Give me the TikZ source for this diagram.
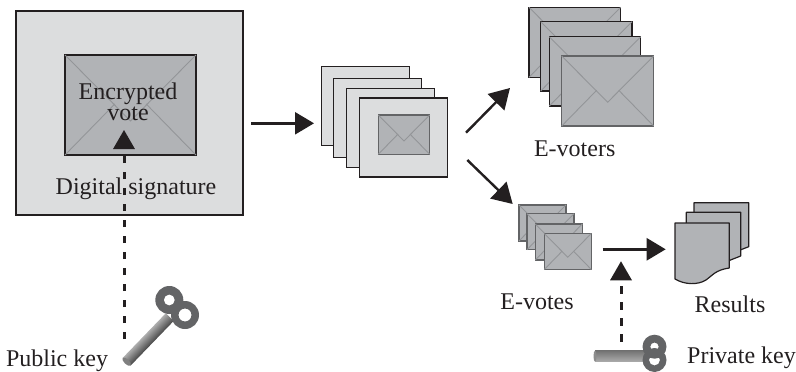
\documentclass[tikz,border=0pt]{standalone}
\usepackage{fontspec}
\setmainfont{Liberation Serif}
\usetikzlibrary{arrows.meta,shapes.geometric}
\definecolor{ink}{HTML}{231F20}
\definecolor{pagegray}{HTML}{DCDDDE}
\definecolor{envgray}{HTML}{B1B3B6}
\definecolor{flapgray}{HTML}{939598}
\definecolor{keygray}{HTML}{636466}
\tikzset{
  framebox/.style={draw=ink,fill=pagegray,line width=1.1pt,inner sep=0,outer sep=0,anchor=north west},
  envbox/.style={draw=ink,fill=envgray,line width=1.1pt,inner sep=0,outer sep=0,anchor=north west},
  softenv/.style={envbox,draw=keygray,line width=1.3pt},
  flap/.style={draw=flapgray,line width=.9pt},
  label/.style={text=ink,font=\fontsize{24}{24}\selectfont,anchor=base,inner sep=0},
  conn/.style={draw=ink,line width=2.6pt,-{Triangle[length=19pt,width=22pt,fill=ink]}},
  slant/.style={draw=ink,line width=2.4pt,-{Triangle[length=20pt,width=23pt,fill=ink]}},
  dashconn/.style={draw=ink,line width=2.8pt,dash pattern=on 7.5pt off 8.5pt},
  tip/.style={regular polygon,regular polygon sides=3,fill=ink,inner sep=0,outer sep=0,minimum size=25.4pt},
  docpage/.style={draw=ink,fill=envgray,line width=1.2pt,line join=round},
  ring/.style={fill=keygray,even odd rule},
}
% name, x, y, w, h, style
\newcommand{\envelopeAt}[6]{%
  \node[#6,minimum width=#4pt,minimum height=#5pt] (#1) at (#2,#3) {};
  \draw[flap] (#1.north west) -- ({#2+.5*#4},{#3+.66*#5}) -- (#1.north east);
  \draw[flap] (#1.south west) -- ({#2+.38*#4},{#3+.49*#5});
  \draw[flap] (#1.south east) -- ({#2+.62*#4},{#3+.49*#5});
}
\newcommand{\frameAt}[5]{%
  \node[framebox,minimum width=#4pt,minimum height=#5pt] (#1) at (#2,#3) {};
}
\begin{document}
\begin{tikzpicture}[x=1pt,y=-1pt]
\useasboundingbox (0,0) rectangle (796,372);

% signed vote
\frameAt{sig}{16}{11}{227}{204}
\envelopeAt{vote}{65}{55}{131}{100}{envbox}
\node[label] (enc) at (128,99) {Encrypted};
\node[label] (votetext) at (128,120) {vote};
\node[label] (digi) at (136,194) {Digital signature};
\node[tip] (tipa) at (124,142.7) {};

% stack of signed votes
\frameAt{fa}{321.7}{66.7}{88}{79}
\frameAt{fb}{333.7}{78.7}{88}{79}
\frameAt{fc}{346.7}{88.7}{88}{79}
\frameAt{fd}{359.3}{98}{88}{79}
\envelopeAt{fenv}{378.3}{115}{51.4}{39.3}{softenv}

% e-voters
\envelopeAt{va}{529}{7.3}{91.7}{70}{envbox}
\envelopeAt{vb}{540.7}{21.7}{91.3}{69.3}{envbox}
\envelopeAt{vc}{549.3}{36.7}{91.4}{69.3}{envbox}
\envelopeAt{vd}{561.7}{56}{92}{70}{softenv}
\node[label] (vlabel) at (574.7,156) {E-voters};

% e-votes
\envelopeAt{ea}{519}{205}{47}{36}{softenv}
\envelopeAt{eb}{527}{213.7}{47}{36}{softenv}
\envelopeAt{ec}{535.3}{224}{47}{36}{softenv}
\envelopeAt{ed}{544.3}{233.5}{47}{36}{softenv}
\node[label] (elabel) at (537,309) {E-votes};

% results
\draw[docpage] (694,202.7) -- (748.7,202.7) -- (748.7,246.7) -- (735,252) -- (694,252) -- cycle;
\draw[docpage] (686.3,212.3) -- (740.7,212.3) -- (740.7,256) -- (728,261) -- (686.3,261) -- cycle;
\draw[docpage] (675,223) -- (729.3,223) -- (729.3,268)
  .. controls (715,270) and (712,276) .. (706,280)
  .. controls (698,285) and (685,285) .. (675,279) -- cycle;
\node[label] (rlabel) at (730,312.3) {Results};

% public key
\coordinate (pubtop) at (124.2,339);
\begin{scope}[transform canvas={shift={(126.7,361.7)},rotate=46}]
  \shade[top color=gray!65,middle color=gray!80,bottom color=black!72]
    (0,-5.5) rectangle (62,5.5);
  \fill[black!50] (0,0) ellipse (2.5 and 5.5);
\end{scope}
\fill[ring] (169.3,300) circle (14) (169.3,300) circle (5.5);
\fill[ring] (185,315) circle (14) (185,315) circle (6.5);
\node[label] (publabel) at (57,366) {Public key};

% private key
\coordinate (privtop) at (621.5,341.5);
\shade[top color=black!55,middle color=keygray,bottom color=gray!65]
  (595,350.7) rectangle (646,361.7);
\fill[black!45] (595,356.2) ellipse (1.5 and 5.5);
\fill[ring] (654.5,346.7) circle (12) (654.5,346.7) circle (4.2);
\fill[ring] (654.5,360) circle (12) (654.5,360) circle (5.5);
\node[label] (privlabel) at (741.5,363.3) {Private key};
\node[tip] (tipb) at (621,274) {};

% connectors
\coordinate (sigout) at (251,123.3);
\coordinate (stackin) at (314,123.3);
\coordinate (stackup) at (466,132.7);
\coordinate (voterin) at (510,88);
\coordinate (stackdown) at (467.3,160);
\coordinate (evotein) at (512.7,204);
\coordinate (evoteout) at (602.7,249.3);
\coordinate (resultin) at (665.7,249.3);
\draw[conn] (sigout) -- (stackin);
\draw[slant] (stackup) -- (voterin);
\draw[slant] (stackdown) -- (evotein);
\draw[conn] (evoteout) -- (resultin);
\draw[dashconn,shorten >=7pt] (pubtop) -- (pubtop |- tipa.south);
\draw[dashconn,shorten >=6pt] (privtop) -- (privtop |- tipb.south);
\end{tikzpicture}
\end{document}
